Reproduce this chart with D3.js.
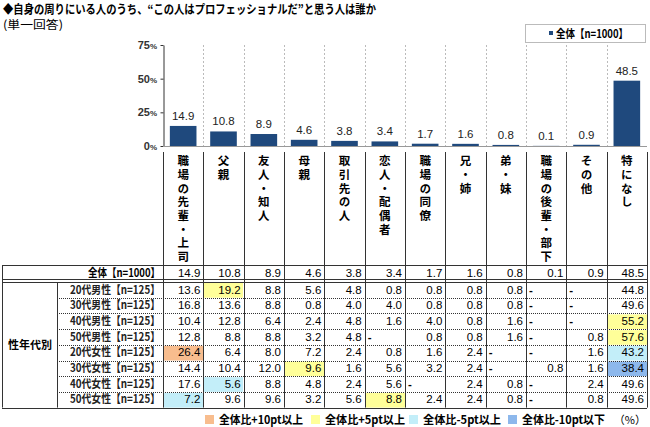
<!DOCTYPE html>
<html>
<head>
<meta charset="utf-8">
<script src="https://cdn.jsdelivr.net/npm/d3@7"></script>
<style>
  html, body { margin: 0; padding: 0; background: #fff; }
  svg { display: block; font-family: "Noto Sans CJK JP", "Noto Sans", sans-serif; }
  .num { font-family: "Liberation Sans", Arial, sans-serif; }
  .vertical { writing-mode: vertical-rl; text-orientation: upright; }
</style>
</head>
<body>
<svg id="grafico"></svg>
<script>
// Dados do gráfico
var categorias = ['職場の先輩・上司', '父親', '友人・知人', '母親', '取引先の人', '恋人・配偶者',
                  '職場の同僚', '兄・姉', '弟・妹', '職場の後輩・部下', 'その他', '特になし'];
var rotuloTotal = '全体【n=1000】';
var valoresTotal = [14.9, 10.8, 8.9, 4.6, 3.8, 3.4, 1.7, 1.6, 0.8, 0.1, 0.9, 48.5];
var rotuloGrupo = '性年代別';
var rotulosLinhas = ['20代男性【n=125】', '30代男性【n=125】', '40代男性【n=125】', '50代男性【n=125】',
                     '20代女性【n=125】', '30代女性【n=125】', '40代女性【n=125】', '50代女性【n=125】'];
var valoresLinhas = [
  [13.6, 19.2, 8.8, 5.6, 4.8, 0.8, 0.8, 0.8, 0.8, null, null, 44.8],
  [16.8, 13.6, 8.8, 0.8, 4.0, 4.0, 0.8, 0.8, 0.8, null, null, 49.6],
  [10.4, 12.8, 6.4, 2.4, 4.8, 1.6, 4.0, 0.8, 1.6, null, null, 55.2],
  [12.8, 8.8, 8.8, 3.2, 4.8, null, 0.8, 0.8, 1.6, null, 0.8, 57.6],
  [26.4, 6.4, 8.0, 7.2, 2.4, 0.8, 1.6, 2.4, null, null, 1.6, 43.2],
  [14.4, 10.4, 12.0, 9.6, 1.6, 5.6, 3.2, 2.4, null, 0.8, 1.6, 38.4],
  [17.6, 5.6, 8.8, 4.8, 2.4, 5.6, null, 2.4, 0.8, null, 2.4, 49.6],
  [7.2, 9.6, 9.6, 3.2, 5.6, 8.8, 2.4, 2.4, 0.8, null, 0.8, 49.6]
];
var ticksY = [0, 25, 50, 75];
var legendaSerie = '全体【n=1000】';
var legendaDestaques = ['全体比+10pt以上', '全体比+5pt以上', '全体比-5pt以上', '全体比-10pt以下'];
var titulo = '◆自身の周りにいる人のうち、“この人はプロフェッショナルだ”と思う人は誰か';
var subtitulo = '(単一回答)';

var largura = 650, altura = 427;
var corBarra = '#1f497d';
var coresDestaque = ['#f8bd8e', '#ffff99', '#c3eef9', '#8db8ec'];
var corLinha = '#333';

var svg = d3.select('#grafico')
            .attr('width', largura)
            .attr('height', altura);

// Títulos
svg.append('text')
   .attr('x', 3).attr('y', 14)
   .attr('textLength', 373).attr('lengthAdjust', 'spacingAndGlyphs')
   .style('font-size', '12px').style('font-weight', 700)
   .text(titulo);
svg.append('text')
   .attr('x', 3).attr('y', 29)
   .attr('textLength', 60).attr('lengthAdjust', 'spacingAndGlyphs')
   .style('font-size', '11.5px')
   .text(subtitulo);

// Escalas
var x = d3.scaleBand()
          .domain(categorias)
          .range([163, 647]);
var y = d3.scaleLinear()
          .domain([0, 75])
          .range([146, 45]);
var bw = x.bandwidth();

// Linhas de grade verticais tracejadas
var plot = svg.append('g');
plot.selectAll('.grade')
    .data(categorias.slice(1))
    .enter().append('line')
    .attr('x1', d => Math.round(x(d)) + 0.5)
    .attr('x2', d => Math.round(x(d)) + 0.5)
    .attr('y1', y(75)).attr('y2', y(0))
    .attr('stroke', '#bbb')
    .attr('stroke-dasharray', '2,2');

// Eixo Y
var eixoY = d3.axisLeft(y)
              .tickValues(ticksY)
              .tickSize(3)
              .tickSizeOuter(0)
              .tickFormat('');
var gEixo = svg.append('g')
               .attr('transform', 'translate(163.5,0)')
               .call(eixoY);
gEixo.select('.domain').attr('stroke', corLinha);
gEixo.selectAll('.tick line').attr('stroke', corLinha);
var rotY = svg.selectAll('.rotY')
              .data(ticksY)
              .enter().append('text')
              .attr('class', 'num')
              .attr('x', 157)
              .attr('y', d => y(d) + 4)
              .attr('text-anchor', 'end')
              .style('font-size', '11px')
              .style('font-weight', 700)
              .style('fill', '#333');
rotY.append('tspan').text(d => d);
rotY.append('tspan').style('font-size', '8px').text('%');

// Linha de base
svg.append('line')
   .attr('x1', 163).attr('x2', 647)
   .attr('y1', y(0) + 0.5).attr('y2', y(0) + 0.5)
   .attr('stroke', '#999');

// Barras
plot.selectAll('.barra')
    .data(valoresTotal)
    .enter().append('rect')
    .attr('x', (d, i) => x(categorias[i]) + bw * 0.17)
    .attr('width', bw * 0.66)
    .attr('y', d => y(d))
    .attr('height', d => y(0) - y(d))
    .attr('fill', corBarra);

// Rótulos das barras
plot.selectAll('.rotulo')
    .data(valoresTotal)
    .enter().append('text')
    .attr('class', 'num')
    .attr('x', (d, i) => x(categorias[i]) + bw / 2)
    .attr('y', d => y(d) - 6)
    .attr('text-anchor', 'middle')
    .style('font-size', '11.5px')
    .style('fill', '#222')
    .text(d => d.toFixed(1));

// Legenda superior
svg.append('rect')
   .attr('x', 525.5).attr('y', 24.5)
   .attr('width', 120).attr('height', 18)
   .attr('fill', '#fff').attr('stroke', '#bbb');
svg.append('rect')
   .attr('x', 549).attr('y', 31)
   .attr('width', 4).attr('height', 4)
   .attr('fill', corBarra);
svg.append('text')
   .attr('x', 556).attr('y', 37.5)
   .attr('textLength', 72).attr('lengthAdjust', 'spacingAndGlyphs')
   .style('font-size', '11.5px').style('font-weight', 700)
   .text(legendaSerie);

// Rótulos verticais das categorias (um texto por categoria, escrita vertical)
svg.selectAll('.categoria')
   .data(categorias)
   .enter().append('text')
   .attr('class', 'vertical')
   .attr('x', d => x(d) + bw / 2)
   .attr('y', 155)
   .style('font-size', '11.5px')
   .style('font-weight', 700)
   .style('letter-spacing', '2.2px')
   .text(d => d);

// Tabela
var topoTabela = 265, fimTotal = 282, altLinha = 15.7;
var fimTabela = fimTotal + altLinha * rotulosLinhas.length;
var tabela = svg.append('g');

function linha(x1, y1, x2, y2, tracejado) {
  tabela.append('line')
        .attr('x1', x1).attr('y1', y1).attr('x2', x2).attr('y2', y2)
        .attr('stroke', corLinha)
        .attr('stroke-dasharray', tracejado ? '1,1' : null);
}

function destaque(v, t) {
  var dif = Math.round((v - t) * 10) / 10;
  if (dif >= 10) return coresDestaque[0];
  if (dif >= 5) return coresDestaque[1];
  if (dif <= -10) return coresDestaque[3];
  if (dif <= -5) return coresDestaque[2];
  return null;
}

// Células destacadas
valoresLinhas.forEach(function(vals, r) {
  vals.forEach(function(v, i) {
    if (v === null) return;
    var cor = destaque(v, valoresTotal[i]);
    if (!cor) return;
    tabela.append('rect')
          .attr('x', Math.round(x(categorias[i])) + 1)
          .attr('y', fimTotal + r * altLinha + 1)
          .attr('width', Math.round(bw) - 1)
          .attr('height', altLinha - 1)
          .attr('fill', cor);
  });
});

// Linhas horizontais
linha(2, topoTabela + 0.5, 647, topoTabela + 0.5);
linha(2, fimTotal - 2.5, 647, fimTotal - 2.5);
linha(2, fimTotal + 0.5, 647, fimTotal + 0.5);
for (var r = 1; r < rotulosLinhas.length; r++) {
  linha(57, Math.round(fimTotal + r * altLinha) + 0.5, 647, Math.round(fimTotal + r * altLinha) + 0.5, true);
}
linha(2, Math.round(fimTabela) + 0.5, 647, Math.round(fimTabela) + 0.5);

// Linhas verticais
linha(2.5, topoTabela, 2.5, fimTabela);
linha(57.5, fimTotal, 57.5, fimTabela);
categorias.forEach(function(c) {
  linha(Math.round(x(c)) + 0.5, 152, Math.round(x(c)) + 0.5, fimTabela);
});
linha(647.5, 152, 647.5, fimTabela);

// Linha do total
tabela.append('text')
      .attr('x', 160).attr('y', topoTabela + 12)
      .attr('text-anchor', 'end')
      .attr('textLength', 72).attr('lengthAdjust', 'spacingAndGlyphs')
      .style('font-size', '11.5px').style('font-weight', 700)
      .text(rotuloTotal);
valoresTotal.forEach(function(v, i) {
  tabela.append('text')
        .attr('class', 'num')
        .attr('x', x(categorias[i]) + bw - 3)
        .attr('y', topoTabela + 12)
        .attr('text-anchor', 'end')
        .style('font-size', '11.5px')
        .text(v.toFixed(1));
});

// Linhas dos grupos
tabela.append('text')
      .attr('x', 30).attr('y', (fimTotal + fimTabela) / 2 + 4)
      .attr('text-anchor', 'middle')
      .style('font-size', '11px').style('font-weight', 700)
      .text(rotuloGrupo);
rotulosLinhas.forEach(function(rot, r) {
  var yb = fimTotal + r * altLinha + 11.5;
  tabela.append('text')
        .attr('x', 160).attr('y', yb)
        .attr('text-anchor', 'end')
        .attr('textLength', 90).attr('lengthAdjust', 'spacingAndGlyphs')
        .style('font-size', '11.5px').style('font-weight', 700)
        .style('fill', '#222')
        .text(rot);
  valoresLinhas[r].forEach(function(v, i) {
    var t = tabela.append('text')
                  .attr('class', 'num')
                  .attr('y', yb)
                  .style('font-size', '11.5px');
    if (v === null) {
      t.attr('x', x(categorias[i]) + 3)
       .attr('text-anchor', 'start')
       .style('font-weight', 700)
       .text('-');
    } else {
      t.attr('x', x(categorias[i]) + bw - 3)
       .attr('text-anchor', 'end')
       .text(v.toFixed(1));
    }
  });
});

// Legenda inferior
var posLegenda = [205, 311, 409, 508];
var largLegenda = [84, 80, 78, 83];
legendaDestaques.forEach(function(txt, i) {
  svg.append('rect')
     .attr('x', posLegenda[i]).attr('y', 415)
     .attr('width', 9).attr('height', 9)
     .attr('fill', coresDestaque[i]);
  svg.append('text')
     .attr('x', posLegenda[i] + 14).attr('y', 424)
     .attr('textLength', largLegenda[i]).attr('lengthAdjust', 'spacingAndGlyphs')
     .style('font-size', '11.5px').style('font-weight', 700)
     .text(txt);
});
svg.append('text')
   .attr('x', 646).attr('y', 424)
   .attr('text-anchor', 'end')
   .style('font-size', '11px')
   .text('（%）');
</script>
</body>
</html>
